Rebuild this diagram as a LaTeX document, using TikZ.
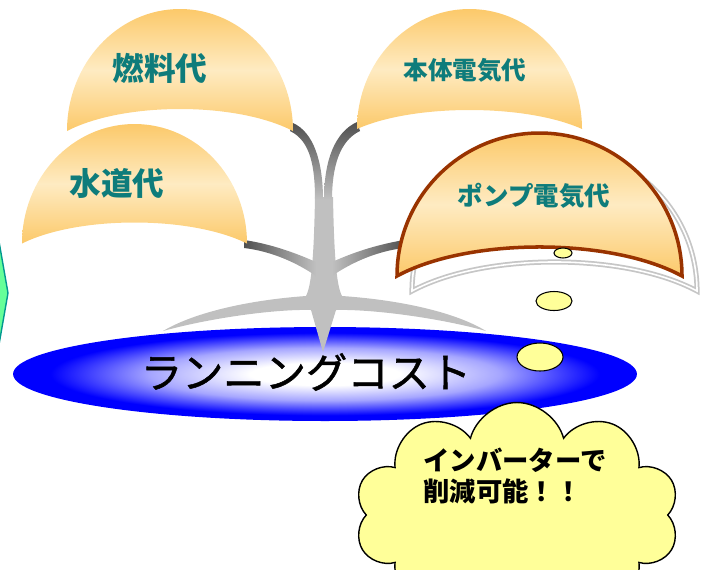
\documentclass[tikz,border=0pt]{standalone}
\usepackage{fontspec}
\newfontfamily\jpfont{Noto Sans CJK JP}
\newfontfamily\jpheavy[FakeBold=1.2]{Noto Sans CJK JP}
\usetikzlibrary{shapes.geometric,shapes.symbols,shadings}
\definecolor{domeorange}{HTML}{FCC96A}
\definecolor{domelight}{HTML}{FEEBC2}
\definecolor{tealtext}{HTML}{0E7C7B}
\definecolor{pumpbrown}{HTML}{993300}
\definecolor{treegray}{HTML}{C0C0C0}
\definecolor{branchdark}{HTML}{505050}
\definecolor{bubbleyellow}{HTML}{FFFF99}
\definecolor{hexgreen}{HTML}{66FF99}
\definecolor{hexedge}{HTML}{00998F}
\pgfdeclareradialshading{costglow}{\pgfpoint{0bp}{0bp}}{color(0bp)=(white); color(6bp)=(white); color(14bp)=(blue!35!white); color(22bp)=(blue); color(50bp)=(blue)}
\tikzset{
  domefill/.style={top color=domeorange, bottom color=domeorange, middle color=domelight},
  domelabel/.style={font=\jpfont\bfseries, text=tealtext},
  shadowline/.style={draw=gray!45, fill=white, line width=1pt, double=white, double distance=0.9pt},
  bubble/.style={ellipse, draw=black, line width=0.6pt, fill=bubbleyellow, inner sep=0pt}
}

\begin{document}
\begin{tikzpicture}[x=0.02cm,y=-0.02cm]
  \useasboundingbox (0,0) rectangle (719,569);
  \clip (0,0) rectangle (719,569);
  \filldraw[fill=hexgreen, draw=hexedge, line width=0.8pt] (-30,230) -- (-3,230) -- (8,293) -- (-3,356) -- (-30,356) -- cycle;

  \node[ellipse, shading=costglow, minimum width=12.48cm, minimum height=1.88cm, inner sep=0pt] (cost) at (325,374) {};

  % trunk and roots
  \fill[treegray] (315,197) .. controls (314,250) and (312,285) .. (306,296)
    .. controls (250,300) and (195,312) .. (163,331)
    .. controls (210,318) and (275,309) .. (311,310)
    -- (323,352) -- (336,310)
    .. controls (372,309) and (440,318) .. (486,331)
    .. controls (455,312) and (400,300) .. (342,296)
    .. controls (336,285) and (334,250) .. (333,197) -- cycle;
  \shade[top color=branchdark, bottom color=treegray] (290,131) .. controls (311,141) and (315,168) .. (315,200) -- (323,200) .. controls (323,160) and (313,132) .. (293,123) -- cycle;
  \shade[top color=branchdark, bottom color=treegray] (360,131) .. controls (339,141) and (332,168) .. (332,200) -- (324,200) .. controls (324,160) and (335,132) .. (357,122) -- cycle;
  \shade[left color=branchdark, right color=treegray] (244,240) .. controls (272,244) and (298,254) .. (316,262) -- (316,276) .. controls (296,262) and (270,251) .. (244,248) -- cycle;
  \shade[left color=treegray, right color=branchdark] (332,262) .. controls (352,253) and (375,245) .. (404,240) -- (404,248) .. controls (378,251) and (352,262) .. (332,276) -- cycle;
  \node[font=\jpheavy\fontsize{23.5}{28}\selectfont] (costlabel) at (306,372) {ランニングコスト};

  \foreach \cx/\by/\rx/\ry/\sag in {180/131/113/122/22, 134.5/243.5/112.5/119.5/21, 469.5/129/112.5/120/19}
    \shade[domefill] (\cx-\rx,\by) arc[start angle=180, end angle=360, x radius=\rx, y radius=\ry]
      .. controls (\cx+\rx/2,\by-\sag*4/3) and (\cx-\rx/2,\by-\sag*4/3) .. cycle;
  \draw[shadowline] (412,291) arc[start angle=180, end angle=360, x radius=142.5, y radius=143]
    .. controls (625.25,252.3) and (483.75,252.3) .. cycle;
  \shade[domefill, draw=pumpbrown, line width=2pt] (397,276) arc[start angle=180, end angle=360, x radius=142.5, y radius=143]
    .. controls (610.75,237.3) and (468.25,237.3) .. cycle;

  \node[domelabel, font=\jpfont\bfseries\fontsize{18}{20}\selectfont] (fuel) at (160,68) {燃料代};
  \node[domelabel, font=\jpfont\bfseries\fontsize{18}{20}\selectfont] (water) at (117,183) {水道代};
  \node[domelabel, font=\jpfont\bfseries\fontsize{14}{16}\selectfont] (body) at (465,70) {本体電気代};
  \node[domelabel, font=\jpfont\bfseries\fontsize{14.5}{16}\selectfont] (pump) at (534,196) {ポンプ電気代};

  \node[bubble, minimum width=0.36cm, minimum height=0.2cm] (bubbleA) at (563,253) {};
  \node[bubble, minimum width=0.72cm, minimum height=0.38cm] (bubbleB) at (554,301) {};
  \node[bubble, minimum width=0.92cm, minimum height=0.56cm] (bubbleC) at (540,357) {};

  \node[cloud, cloud puffs=10, aspect=1.4, draw=black, line width=0.8pt, fill=bubbleyellow, minimum width=6.5cm, minimum height=4.5cm] (savecloud) at (517,515) {};
  \node[font=\jpfont\bfseries\fontsize{15}{17.6}\selectfont, align=left] (savetext) at (515,476) {インバーターで\\削減可能！！};
\end{tikzpicture}
\end{document}
